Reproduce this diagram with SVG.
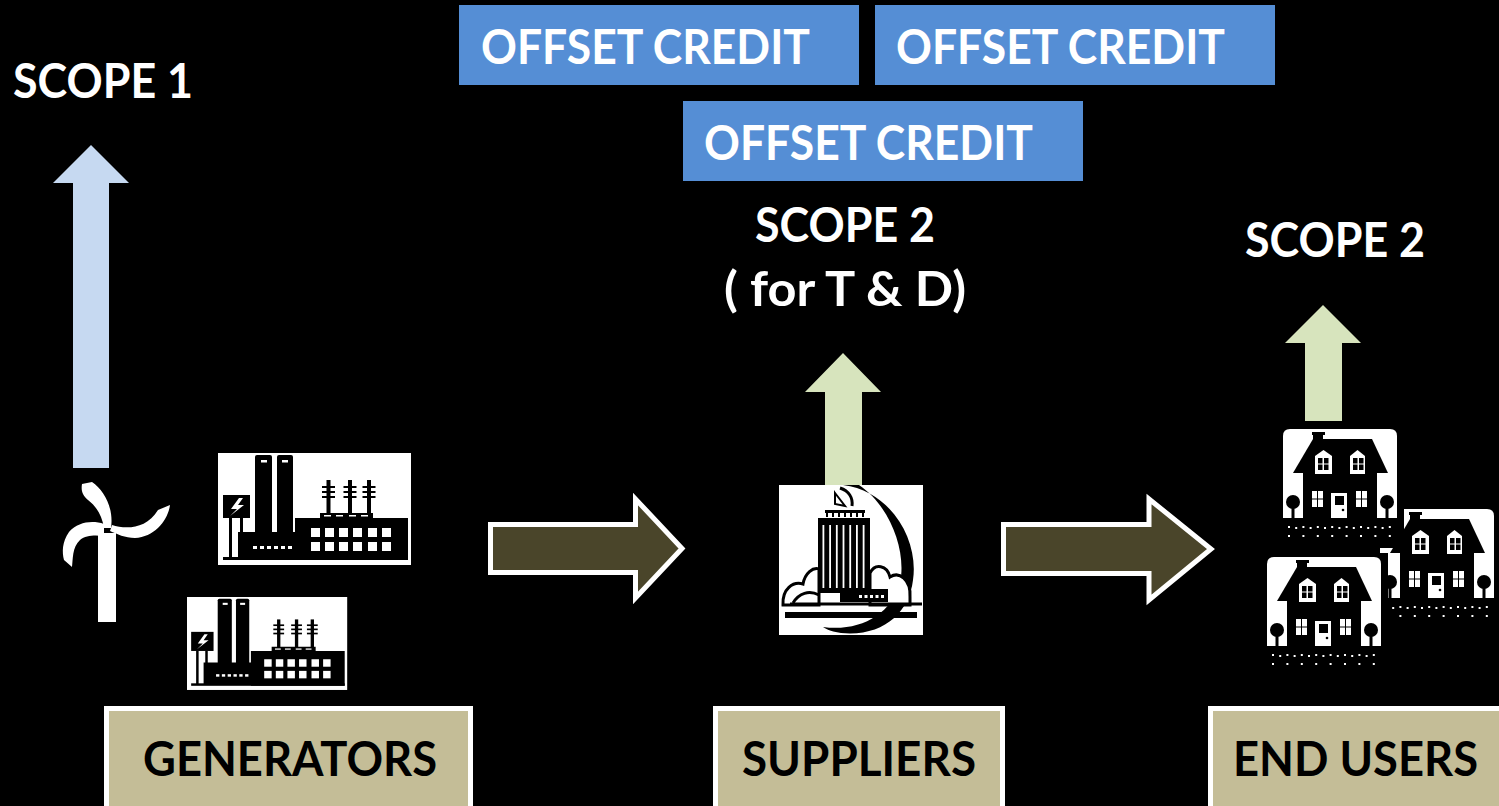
<svg xmlns="http://www.w3.org/2000/svg" width="1499" height="806" viewBox="0 0 1499 806">
  <style>
    .t { font-family: Lato, "Open Sans", "Liberation Sans", sans-serif; font-weight: 700; font-size: 47px; }
    .tw { fill: #ffffff; }
    .tk { fill: #000000; }
    .credit { fill: #558ed5; }
    .label { fill: #c4bd97; stroke: #ffffff; stroke-width: 5; }
    .flow { fill: #4a452a; stroke: #ffffff; stroke-width: 5; stroke-linejoin: miter; }
    .up-blue { fill: #c6d9f1; }
    .up-green { fill: #d7e4bd; }
    .blade { fill: #ffffff; }
  </style>
  <defs>
    <!-- power plant icon, local box 193 x 112 -->
    <g id="plant">
      <rect x="0" y="0" width="193" height="112" fill="#fff"/>
      <g fill="#000">
        <rect x="37" y="2" width="17" height="95" rx="2"/>
        <rect x="59" y="2" width="16" height="95" rx="2"/>
        <path d="M20 79 H82 V76 H87 V105 H20 Z"/>
        <rect x="5" y="42" width="27" height="23"/>
        <rect x="11" y="65" width="3" height="40"/>
        <rect x="22" y="65" width="3" height="15"/>
        <path d="M77 65 H102 V60 H155 V65 H190 V107 H77 Z"/>
        <rect x="5" y="104" width="185" height="3"/>
        <rect x="108.5" y="27" width="4" height="34"/>
        <rect x="130" y="27" width="4" height="34"/>
        <rect x="149" y="27" width="4" height="34"/>
        <rect x="104" y="33" width="13" height="2"/>
        <rect x="104" y="38" width="13" height="2"/>
        <rect x="104" y="43" width="13" height="2"/>
        <rect x="125.5" y="33" width="13" height="2"/>
        <rect x="125.5" y="38" width="13" height="2"/>
        <rect x="125.5" y="43" width="13" height="2"/>
        <rect x="144.5" y="33" width="13" height="2"/>
        <rect x="144.5" y="38" width="13" height="2"/>
        <rect x="144.5" y="43" width="13" height="2"/>
      </g>
      <g fill="#fff">
        <rect x="43" y="7" width="6" height="2.5"/>
        <rect x="64" y="7" width="6" height="2.5"/>
        <polygon points="21,45 13,56 19,56 12,63 26,52 20,52 25,45"/>
        <rect x="35" y="93" width="4" height="3"/>
        <rect x="42" y="93" width="4" height="3"/>
        <rect x="49" y="93" width="4" height="3"/>
        <rect x="56" y="93" width="4" height="3"/>
        <rect x="63" y="93" width="4" height="3"/>
        <rect x="70" y="93" width="4" height="3"/>
        <rect x="106" y="62" width="7" height="1.5"/>
        <rect x="118" y="62" width="7" height="1.5"/>
        <rect x="131" y="62" width="7" height="1.5"/>
        <rect x="143" y="62" width="7" height="1.5"/>
        <rect x="93" y="75" width="9" height="9"/>
        <rect x="107" y="75" width="9" height="9"/>
        <rect x="121" y="75" width="9" height="9"/>
        <rect x="135" y="75" width="9" height="9"/>
        <rect x="150" y="75" width="9" height="9"/>
        <rect x="164" y="75" width="9" height="9"/>
        <rect x="93" y="89" width="9" height="9"/>
        <rect x="107" y="89" width="9" height="9"/>
        <rect x="121" y="89" width="9" height="9"/>
        <rect x="135" y="89" width="9" height="9"/>
        <rect x="150" y="89" width="9" height="9"/>
        <rect x="164" y="89" width="9" height="9"/>
      </g>
    </g>

    <!-- house icon, white card 114 x 89 with dotted ground strip -->
    <g id="house">
      <rect x="0" y="-4" width="121" height="123" fill="#000"/>
      <path d="M0 89 V7 Q0 0 7 0 H107 Q114 0 114 7 V89 Z" fill="#fff"/>
      <g fill="#000">
        <rect x="29" y="3" width="13" height="3"/>
        <rect x="30" y="6" width="10" height="6"/>
        <polygon points="30,10 89,10 105,44 10,44"/>
        <rect x="20" y="43" width="74" height="46"/>
        <circle cx="10" cy="73" r="7"/>
        <rect x="8.5" y="73" width="3" height="16"/>
        <circle cx="104" cy="73" r="7"/>
        <rect x="102.5" y="73" width="3" height="16"/>
      </g>
      <g fill="#fff">
        <polygon points="32,27 40.5,21 49,27 49,45 32,45"/>
        <polygon points="67,27 74.5,21 82,27 82,45 67,45"/>
        <rect x="29" y="62" width="5" height="7.5"/>
        <rect x="35" y="62" width="5" height="7.5"/>
        <rect x="29" y="70.5" width="5" height="7.5"/>
        <rect x="35" y="70.5" width="5" height="7.5"/>
        <rect x="73" y="62" width="5" height="7.5"/>
        <rect x="79" y="62" width="5" height="7.5"/>
        <rect x="73" y="70.5" width="5" height="7.5"/>
        <rect x="79" y="70.5" width="5" height="7.5"/>
        <rect x="48" y="64" width="16" height="25"/>
      </g>
      <g fill="#000">
        <rect x="35" y="29" width="4.5" height="5.5"/>
        <rect x="41" y="29" width="4.5" height="5.5"/>
        <rect x="35" y="35.5" width="4.5" height="5.5"/>
        <rect x="41" y="35.5" width="4.5" height="5.5"/>
        <rect x="70" y="29" width="4.5" height="5.5"/>
        <rect x="76" y="29" width="4.5" height="5.5"/>
        <rect x="70" y="35.5" width="4.5" height="5.5"/>
        <rect x="76" y="35.5" width="4.5" height="5.5"/>
        <rect x="52" y="67" width="9" height="9"/>
        <circle cx="60" cy="81" r="1.3"/>
      </g>
      <g fill="#fff">
        <rect x="5" y="97" width="2" height="2"/><rect x="12.2" y="98" width="2" height="2"/>
        <rect x="19.4" y="97" width="2" height="2"/><rect x="26.6" y="98" width="2" height="2"/>
        <rect x="33.8" y="97" width="2" height="2"/><rect x="41" y="98" width="2" height="2"/>
        <rect x="48.2" y="97" width="2" height="2"/><rect x="55.4" y="98" width="2" height="2"/>
        <rect x="62.6" y="97" width="2" height="2"/><rect x="69.8" y="98" width="2" height="2"/>
        <rect x="77" y="97" width="2" height="2"/><rect x="84.2" y="98" width="2" height="2"/>
        <rect x="91.4" y="97" width="2" height="2"/><rect x="98.6" y="98" width="2" height="2"/>
        <rect x="105.8" y="97" width="2" height="2"/>
        <rect x="5" y="106" width="2" height="2"/><rect x="19.4" y="106" width="2" height="2"/>
        <rect x="33.8" y="106" width="2" height="2"/><rect x="48.2" y="106" width="2" height="2"/>
        <rect x="62.6" y="106" width="2" height="2"/><rect x="77" y="106" width="2" height="2"/>
        <rect x="91.4" y="106" width="2" height="2"/><rect x="105.8" y="106" width="2" height="2"/>
      </g>
    </g>
  </defs>

  <rect x="0" y="0" width="1499" height="806" fill="#000"/>

  <!-- offset credit banners -->
  <g id="credit-1">
    <rect class="credit" x="459" y="5" width="400" height="80"/>
    <text class="t tw" x="481" y="64" textLength="329" lengthAdjust="spacingAndGlyphs">OFFSET CREDIT</text>
  </g>
  <g id="credit-2">
    <rect class="credit" x="875" y="5" width="400" height="80"/>
    <text class="t tw" x="896" y="64" textLength="329" lengthAdjust="spacingAndGlyphs">OFFSET CREDIT</text>
  </g>
  <g id="credit-3">
    <rect class="credit" x="683" y="101" width="400" height="80"/>
    <text class="t tw" x="704" y="160" textLength="329" lengthAdjust="spacingAndGlyphs">OFFSET CREDIT</text>
  </g>

  <!-- scope captions -->
  <g id="scope-1">
    <text class="t tw" x="13" y="98" textLength="180" lengthAdjust="spacingAndGlyphs">SCOPE 1</text>
  </g>
  <g id="scope-2-td">
    <text class="t tw" x="755" y="242" textLength="180" lengthAdjust="spacingAndGlyphs">SCOPE 2</text>
    <text class="t tw" x="724" y="306" textLength="242" lengthAdjust="spacingAndGlyphs">( for T &amp; D)</text>
  </g>
  <g id="scope-2-users">
    <text class="t tw" x="1245" y="257" textLength="180" lengthAdjust="spacingAndGlyphs">SCOPE 2</text>
  </g>

  <!-- connectors: emission arrows and flow arrows -->
  <g id="connectors">
    <polygon class="up-blue" points="91,145 129,183 109,183 109,468 73,468 73,183 53,183"/>
    <polygon class="up-green" points="843,353 881,392 862,392 862,486 825,486 825,392 805,392"/>
    <polygon class="up-green" points="1323,305 1361,343 1342,343 1342,421 1305,421 1305,343 1285,343"/>
    <path class="flow" d="M490.5 524.5 H635.5 V499 L682 548.5 L635.5 598 V572.5 H490.5 Z"/>
    <path class="flow" d="M1003.5 524.5 H1149 V499 L1211 549 L1149 600 V573.5 H1003.5 Z"/>
  </g>

  <!-- generators: wind turbine and power plants -->
  <g id="generators-icons">
    <g id="wind-turbine">
      <rect x="98" y="533" width="18" height="89" fill="#fff"/>
      <path class="blade" d="M82 484 L92 482 C104 490 114 508 111 528 L104 528 C102 515 96 506 88 500 C82 495 81 490 82 484 Z"/>
      <path class="blade" d="M112 525 C125 529 146 530 158 510 L170 505 C168 520 155 537 135 538 C125 538 117 534 110 531 Z"/>
      <path class="blade" d="M104 524 C92 520 78 522 69 532 C62 542 62 552 64 560 L72 567 C73 560 72 547 80 540 C86 535 95 535 104 536 Z"/>
    </g>
    <use href="#plant" transform="translate(218,453)"/>
    <use href="#plant" transform="translate(187,597) scale(0.83)"/>
  </g>

  <!-- supplier: office tower icon -->
  <g id="supplier-icon" transform="translate(779,485)">
    <rect x="0" y="0" width="144" height="150" fill="#fff"/>
    <path d="M64 0 C112 6 140 55 134 95 C130 128 104 152 62 148 C55 147 48 145 44 142 C80 147 112 130 121 98 C128 65 110 20 80 0 Z" fill="#000"/>
    <g fill="#fff" stroke="#000" stroke-width="3">
      <path d="M4 120 C3 104 14 96 24 99 C26 88 34 82 40 84 V120 Z"/>
      <path d="M91 120 V88 C96 78 108 80 111 92 C120 86 132 94 131 112 L131 120 Z"/>
    </g>
    <g fill="none" stroke="#000">
      <path d="M14 118 C20 108 30 105 40 110" stroke-width="3"/>
      <path d="M56 8 L66 21 L56 19 Z" stroke-width="2"/>
      <path d="M61 3 C70 6 74 13 73 21" stroke-width="3"/>
    </g>
    <g fill="#000">
      <rect x="46" y="25" width="40" height="3"/>
      <rect x="47" y="28" width="2" height="4"/>
      <rect x="53" y="28" width="2" height="4"/>
      <rect x="59" y="28" width="2" height="4"/>
      <rect x="65" y="28" width="2" height="4"/>
      <rect x="71" y="28" width="2" height="4"/>
      <rect x="77" y="28" width="2" height="4"/>
      <rect x="83" y="28" width="2" height="4"/>
      <rect x="39" y="33" width="52" height="75"/>
      <rect x="61" y="104" width="48" height="13"/>
      <rect x="11" y="117.5" width="132" height="3"/>
      <rect x="6" y="127" width="132" height="6"/>
    </g>
    <g fill="#fff">
      <rect x="43.5" y="40" width="1.8" height="63"/>
      <rect x="50.2" y="40" width="1.8" height="63"/>
      <rect x="56.9" y="40" width="1.8" height="63"/>
      <rect x="63.6" y="40" width="1.8" height="63"/>
      <rect x="70.3" y="40" width="1.8" height="63"/>
      <rect x="77" y="40" width="1.8" height="63"/>
      <rect x="83.7" y="40" width="1.8" height="63"/>
      <rect x="80" y="110" width="3" height="3"/>
      <rect x="85.5" y="110" width="3" height="3"/>
      <rect x="91" y="110" width="3" height="3"/>
      <rect x="96.5" y="110" width="3" height="3"/>
      <rect x="102" y="110" width="3" height="3"/>
    </g>
  </g>

  <!-- end users: houses -->
  <g id="end-user-icons">
    <use href="#house" transform="translate(1380,509)"/>
    <use href="#house" transform="translate(1283,429)"/>
    <use href="#house" transform="translate(1267,557)"/>
  </g>

  <!-- stage labels -->
  <g id="generators">
    <rect class="label" x="106.5" y="708.5" width="364" height="120"/>
    <text class="t tk" x="143" y="776" textLength="294" lengthAdjust="spacingAndGlyphs">GENERATORS</text>
  </g>
  <g id="suppliers">
    <rect class="label" x="715.5" y="708.5" width="287" height="120"/>
    <text class="t tk" x="742" y="776" textLength="234" lengthAdjust="spacingAndGlyphs">SUPPLIERS</text>
  </g>
  <g id="end-users">
    <rect class="label" x="1210.5" y="708.5" width="300" height="120"/>
    <text class="t tk" x="1233" y="776" textLength="245" lengthAdjust="spacingAndGlyphs">END USERS</text>
  </g>
</svg>
